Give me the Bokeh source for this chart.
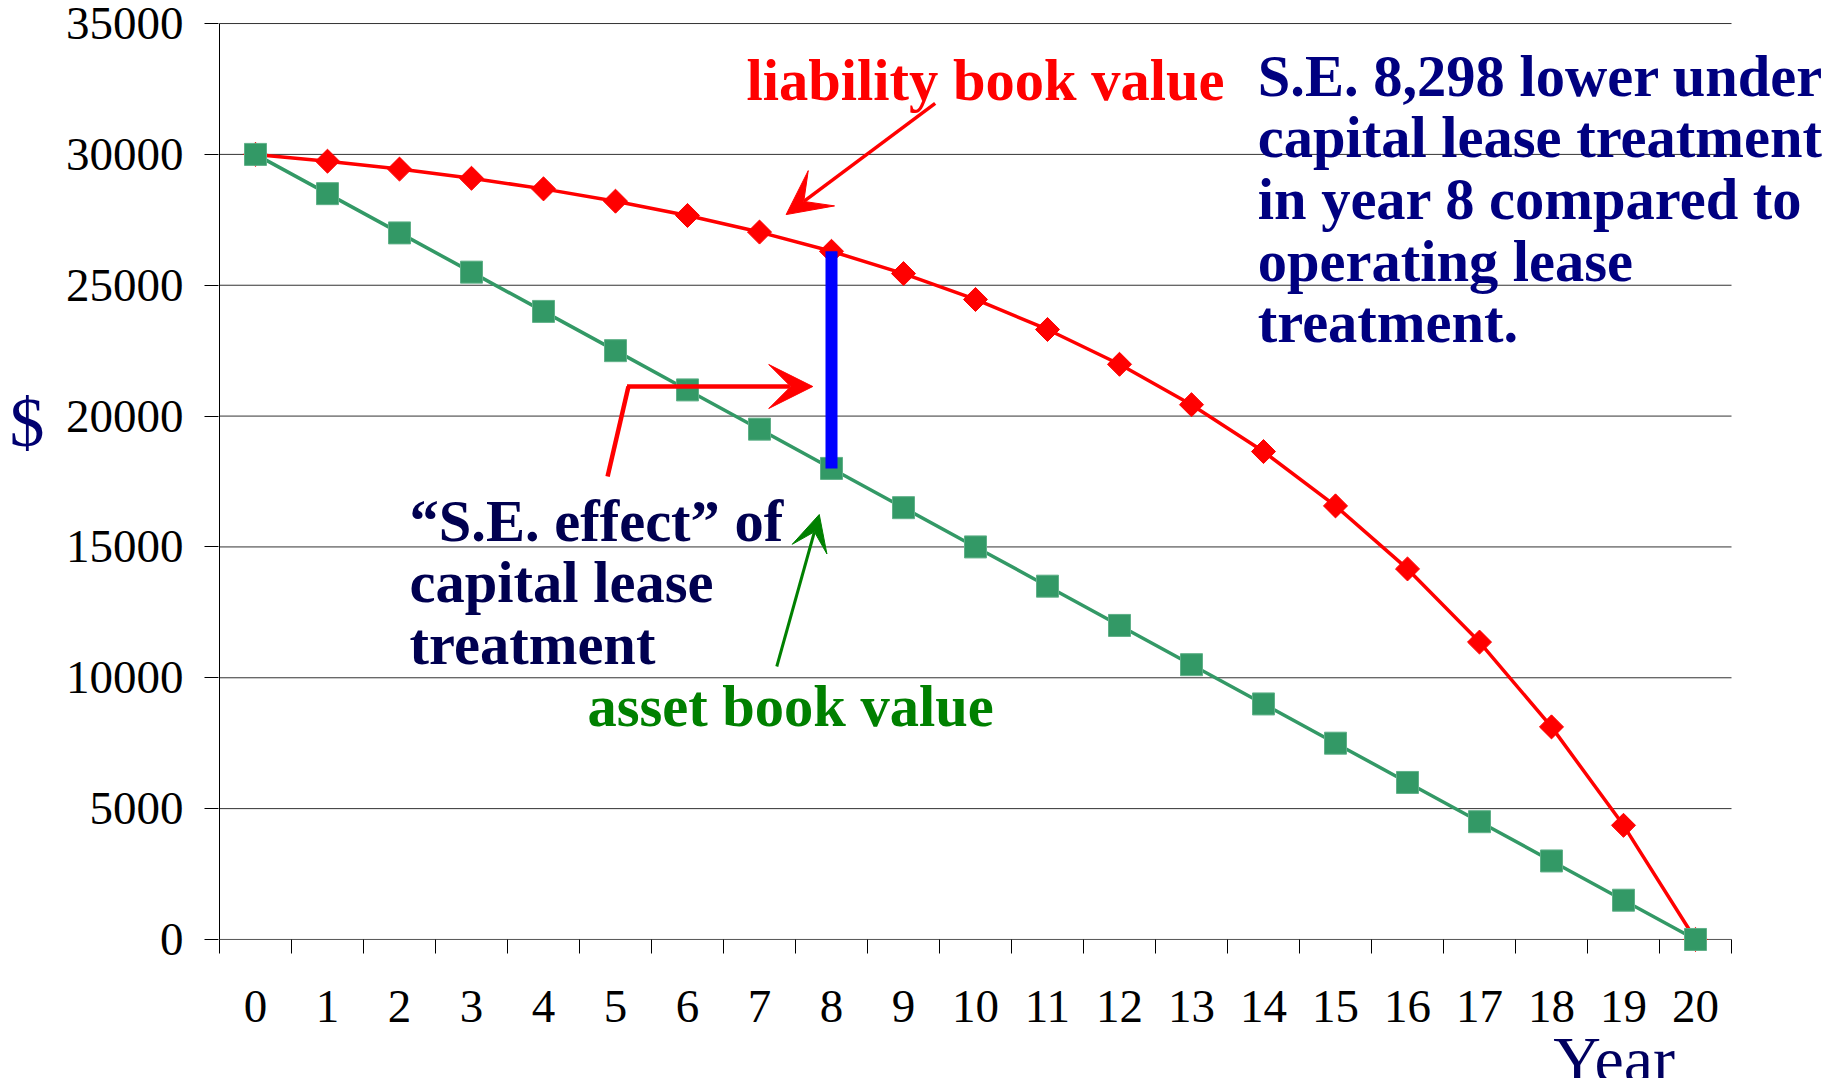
import math
from bokeh.plotting import figure
from bokeh.models import FixedTicker, Label, Arrow, VeeHead, Range1d, LinearAxis
from bokeh.embed import file_html
from bokeh.resources import INLINE

# ---------------- data ----------------
years = list(range(21))
liability = [30000, 29740, 29438, 29088, 28683, 28212, 27666, 27032, 26297, 25445,
             24456, 23309, 21979, 20435, 18645, 16568, 14159, 11364, 8123, 4362, 0]
asset = [30000, 28500, 27000, 25500, 24000, 22500, 21000, 19500, 18000, 16500,
         15000, 13500, 12000, 10500, 9000, 7500, 6000, 4500, 3000, 1500, 0]
y_ticks = [0, 5000, 10000, 15000, 20000, 25000, 30000, 35000]
x_tick_labels = [str(y) for y in years]
focus_year = 8

right_lines = ["S.E. 8,298 lower under", "capital lease treatment",
               "in year 8 compared to", "operating lease", "treatment."]
left_lines = ["\u201cS.E. effect\u201d of", "capital lease", "treatment"]

SERIF = "Liberation Serif"
RED = "#ff0000"
GREEN_SERIES = "#339966"
GREEN_TEXT = "#008000"
NAVY = "#000080"
NAVY_DARK = "#000050"

x_lo = years[0] - 0.5
x_hi = years[-1] + 0.5
y_lo, y_hi = y_ticks[0], y_ticks[-1]

# frame covers the whole canvas below/right of the axes; 72 px per year, 38.21 $ per px
p = figure(width=1833, height=1078, output_backend="svg", toolbar_location=None,
           x_range=Range1d(x_lo - 1 / 72, x_hi + 102 / 72), y_range=Range1d(-5313, 35040),
           min_border_left=218, min_border_right=0, min_border_top=22,
           min_border_bottom=0, title=None)
p.outline_line_color = None
p.background_fill_color = "white"
p.border_fill_color = "white"
p.xgrid.grid_line_color = None
p.ygrid.grid_line_color = None

# y axis (line drawn separately so it stops at 0)
p.yaxis.ticker = FixedTicker(ticks=y_ticks)
p.yaxis.major_tick_out = 14
p.yaxis.major_tick_in = 0
p.yaxis.minor_tick_line_color = None
p.yaxis.major_label_standoff = 21
p.yaxis.axis_line_color = None
p.yaxis.major_tick_line_color = "black"
p.yaxis.major_label_text_font = SERIF
p.yaxis.major_label_text_font_size = "47px"
p.yaxis.major_label_text_color = "black"

# x axis at y = 0: labels at category centres, tick marks between categories
p.xaxis.fixed_location = y_lo
p.xaxis.ticker = FixedTicker(ticks=years, minor_ticks=[y - 0.5 for y in years] + [x_hi])
p.xaxis.major_label_overrides = {y: s for y, s in zip(years, x_tick_labels)}
p.xaxis.major_tick_out = 0
p.xaxis.major_tick_in = 0
p.xaxis.major_tick_line_color = None
p.xaxis.minor_tick_out = 14
p.xaxis.minor_tick_in = 0
p.xaxis.minor_tick_line_color = "black"
p.xaxis.axis_line_color = None
p.xaxis.major_label_standoff = 38
p.xaxis.major_label_text_font = SERIF
p.xaxis.major_label_text_font_size = "47px"
p.xaxis.major_label_text_color = "black"

# "$" title as an extra axis on the left
dollar_axis = LinearAxis(ticker=FixedTicker(ticks=[19750]), major_label_overrides={19750: "$"},
                         axis_line_color=None, major_tick_line_color=None,
                         minor_tick_line_color=None, major_label_standoff=12,
                         major_label_text_font=SERIF, major_label_text_font_size="70px",
                         major_label_text_color="#000070")
p.add_layout(dollar_axis, "left")

# gridlines, axis lines
p.segment(x0=[x_lo] * (len(y_ticks) - 1), x1=[x_hi] * (len(y_ticks) - 1),
          y0=y_ticks[1:], y1=y_ticks[1:], line_color="#333333", line_width=1)
p.segment(x0=[x_lo], x1=[x_hi], y0=[y_lo], y1=[y_lo], line_color="#555555", line_width=1)
p.segment(x0=[x_lo], x1=[x_lo], y0=[y_lo], y1=[y_hi], line_color="black", line_width=1)

# series
p.line(years, liability, line_color=RED, line_width=3.5)
p.line(years, asset, line_color=GREEN_SERIES, line_width=3.5)
p.scatter(years, liability, marker="square", angle=math.pi / 4, size=17,
          fill_color=RED, line_color=RED)
p.scatter(years, asset, marker="square", size=22,
          fill_color=GREEN_SERIES, line_color="#5fb088", line_width=1)

# blue S.E. bar
p.segment(x0=[years[focus_year]], y0=[asset[focus_year]], x1=[years[focus_year]],
          y1=[liability[focus_year]], line_color="#0000ff", line_width=12, line_cap="butt")

# arrows
p.add_layout(Arrow(x_start=9.44, y_start=31950, x_end=7.37, y_end=27700,
                   line_color=RED, line_width=3.5,
                   end=VeeHead(size=44, fill_color=RED, line_color=RED)))
p.line([4.89, 5.18], [17690, 21130], line_color=RED, line_width=4.5)
p.add_layout(Arrow(x_start=5.16, y_start=21130, x_end=7.74, y_end=21130,
                   line_color=RED, line_width=4.5,
                   end=VeeHead(size=44, fill_color=RED, line_color=RED)))
p.add_layout(Arrow(x_start=7.24, y_start=10430, x_end=7.83, y_end=16240,
                   line_color=GREEN_TEXT, line_width=3,
                   end=VeeHead(size=36, fill_color=GREEN_TEXT, line_color=GREEN_TEXT)))

def add_label(x, y, text, color, size="58.5px", style="bold", align="left", baseline="alphabetic"):
    p.add_layout(Label(x=x, y=y, text=text, text_font=SERIF, text_font_size=size,
                       text_font_style=style, text_color=color, text_align=align,
                       text_baseline=baseline))

add_label(6.82, 32820, "liability book value", RED)
add_label(4.61, 8900, "asset book value", GREEN_TEXT)
for i, t in enumerate(right_lines):
    add_label(13.92, 32980 - i * 2352, t, NAVY)
for i, t in enumerate(left_lines):
    add_label(2.14, 15990 - i * 2350, t, NAVY_DARK)
add_label(18.87, -4600, "Year", "#000060", size="66px", style="normal", align="center")

open("out.html", "w").write(file_html(p, INLINE))
